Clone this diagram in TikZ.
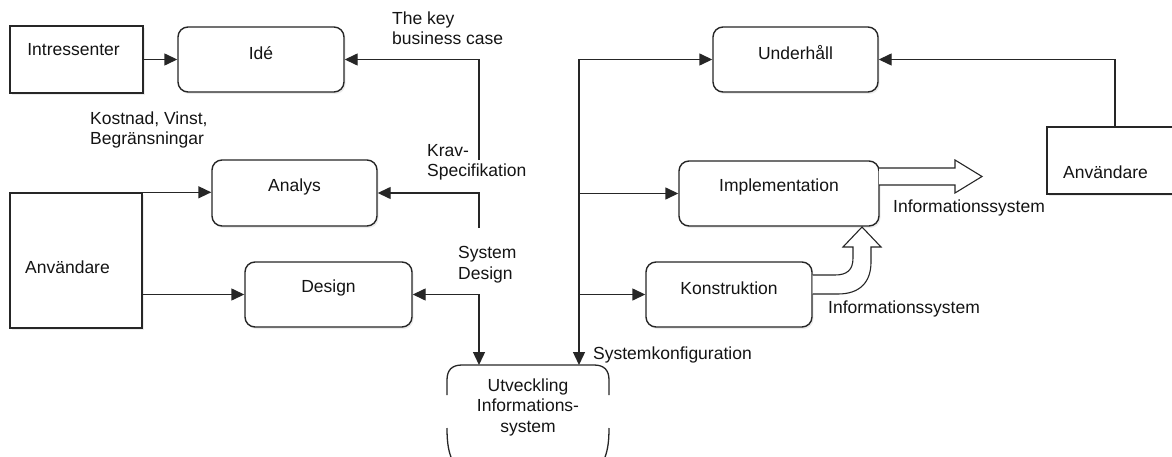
\documentclass[tikz,border=0pt]{standalone}
\usepackage{fontspec}
\setmainfont{Liberation Sans}
\usetikzlibrary{arrows.meta,shadows}
\begin{document}
\begin{tikzpicture}[x=1pt,y=-1pt,
  every node/.style={font=\fontsize{17.5}{20.5}\selectfont, text=black!92},
  shad/.style={drop shadow={shadow xshift=1.5pt,shadow yshift=-2pt,opacity=0.15}},
  rbox/.style={draw=black!85, line width=1.4pt, rounded corners=10pt, fill=white, inner sep=0pt, shad},
  sbox/.style={draw=black!85, line width=1.4pt, fill=white, inner sep=0pt, shad},
  arr/.style={draw=black!85, line width=1.4pt, -{Triangle[length=13pt,width=12pt]}},
  arrs/.style={draw=black!85, line width=1.4pt, {Triangle[length=13pt,width=12pt]}-{Triangle[length=13pt,width=12pt]}},
  lbl/.style={align=left, anchor=base west, inner sep=0pt},
  blk/.style={draw=black!85, line width=1.1pt, fill=white},
]
\useasboundingbox (0,0) rectangle (1172,457);
\clip (0,0) rectangle (1172,457);

% boxes
\node[sbox, minimum width=133pt, minimum height=67pt, label={[xshift=-3pt,yshift=9.5pt]center:Intressenter}] (intr) at (76.5,59.5) {};
\node[rbox, minimum width=166pt, minimum height=65pt, label={[yshift=6.5pt]center:Idé}] (ide) at (261,59.5) {};
\node[rbox, minimum width=165pt, minimum height=66pt, label={[yshift=6pt]center:Analys}] (analys) at (294.5,193) {};
\node[rbox, minimum width=167pt, minimum height=65pt, label={[yshift=6.5pt]center:Design}] (design) at (328.5,294.5) {};
\node[sbox, minimum width=132pt, minimum height=135pt, label={[xshift=-8.5pt,yshift=-6.5pt]center:Användare}] (andL) at (76,260.5) {};
\node[rbox, minimum width=165pt, minimum height=65pt, label={[yshift=6.5pt]center:Underhåll}] (und) at (795.5,59.5) {};
\node[rbox, minimum width=200pt, minimum height=65pt, label={[yshift=6.5pt]center:Implementation}] (impl) at (779,193.5) {};
\node[rbox, minimum width=166pt, minimum height=65pt, label={[yshift=6.5pt]center:Konstruktion}] (kons) at (729,294.5) {};
\node[sbox, minimum width=136pt, minimum height=67pt, label={[xshift=-9.5pt,yshift=-11.5pt]center:Användare}] (andR) at (1115,160.5) {};

% Utveckling shape
\draw[draw=black!85, line width=1.3pt] (447,395) -- (447,380) .. controls (447,370) and (452,365) .. (462,365) -- (594,365) .. controls (604,365) and (609,370) .. (609,380) -- (609,395);
\draw[draw=black!85, line width=1.3pt] (447,428) .. controls (447,445) and (449,452) .. (452,460);
\draw[draw=black!85, line width=1.3pt] (609,428) .. controls (609,445) and (607,452) .. (604,460);
\node[align=center, inner sep=0pt] (utv) at (528,407) {Utveckling\\Informations-\\system};

% connector anchor points
\coordinate (krA) at (479,160);
\coordinate (krB) at (479,228);
\coordinate (utvL) at (479,365);
\coordinate (utvR) at (579,365);
\coordinate (trunk) at (579,59.5);

% connectors
\draw[arr] (intr.east) -- (ide.west);
\draw[arr] (krA) |- (ide.east);
\draw[arr] (krB) |- (analys.east);
\draw[arrs] (design.east) -| (utvL);
\draw[arr] (andL.north east) -- (andL.north east -| analys.west);
\draw[arr] (andL.east |- design.west) -- (design.west);
\draw[arr] (trunk) -- (und.west);
\draw[arr] (trunk) -- (utvR);
\draw[arr] (trunk |- impl.west) -- (impl.west);
\draw[arr] (trunk |- kons.west) -- (kons.west);
\draw[arr] (andR.north) |- (und.east);

% block arrows
\draw[blk] (879,168) -- (955,168) -- (955,160) -- (982,176.5) -- (955,193) -- (955,185) -- (879,185);
\draw[blk] (812.5,294) -- (838,294) .. controls (860,294) and (871,282) .. (871,262) -- (871,247) -- (881,247) -- (862,227) -- (843,247) -- (853,247) -- (853,258) .. controls (853,270) and (847,275) .. (835,275) -- (812.5,275);

% labels (multi-line: base = last line baseline)
\node[lbl] (tkey) at (392,45) {The key\\business case};
\node[lbl] (kost) at (90,145) {Kostnad, Vinst,\\Begränsningar};
\node[lbl] (krav) at (427,177) {Krav-\\Specifikation};
\node[lbl] (sysd) at (458,279) {System\\Design};
\node[lbl] (info1) at (893,212) {Informationssystem};
\node[lbl] (info2) at (828,313) {Informationssystem};
\node[lbl] (skonf) at (593,359) {Systemkonfiguration};
\end{tikzpicture}
\end{document}
